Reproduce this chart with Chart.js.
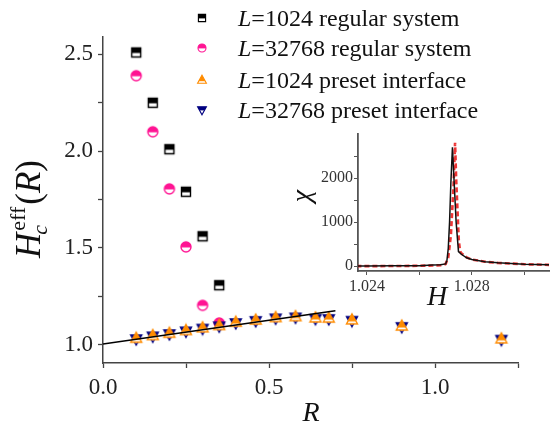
<!DOCTYPE html>
<html>
<head>
<meta charset="utf-8">
<script src="https://cdn.jsdelivr.net/npm/chart.js@4"></script>
<style>
  body { margin: 0; background: #fff; }
  #wrap { position: relative; width: 550px; height: 425px; }
  #main { position: absolute; left: 0; top: 0; }
  #inset { position: absolute; left: 290px; top: 120px; }
</style>
</head>
<body>
<div id="wrap">
  <canvas id="main" width="550" height="425"></canvas>
  <canvas id="inset" width="260" height="190"></canvas>
</div>
<script>
// main panel data
const R_REG = [0.1, 0.15, 0.2, 0.25, 0.3, 0.35];
const HC_L1024_REG = [2.51, 2.25, 2.01, 1.79, 1.56, 1.307];
const HC_L32768_REG = [2.39, 2.10, 1.805, 1.505, 1.203, 1.112];

const R_PRESET = [0.1, 0.15, 0.2, 0.25, 0.3, 0.35, 0.4, 0.46, 0.52, 0.58, 0.64, 0.68, 0.75, 0.9, 1.2];
const HC_L1024_PRESET = [1.033, 1.047, 1.059, 1.073, 1.087, 1.099, 1.116, 1.127, 1.140, 1.145, 1.138, 1.137, 1.128, 1.096, 1.030];
const HC_L32768_PRESET = [1.029, 1.043, 1.055, 1.069, 1.083, 1.095, 1.112, 1.123, 1.136, 1.141, 1.134, 1.133, 1.124, 1.092, 1.026];

const FIT_R = [0, 0.7];
const FIT_HC = [1.003, 1.175];

const X_TICKS = [0, 0.25, 0.5, 0.75, 1.0, 1.25];
const X_LABELS = [0, 0.5, 1.0];
const Y_TICKS = [1.0, 1.25, 1.5, 1.75, 2.0, 2.25, 2.5];
const Y_LABELS = [1.0, 1.5, 2.0, 2.5];

// inset data (susceptibility vs field)
const H_BLACK = [1.0236, 1.024, 1.025, 1.026, 1.0265, 1.0268, 1.027, 1.02705, 1.0271, 1.02715, 1.0272, 1.02726, 1.0273, 1.0274, 1.02749, 1.0276, 1.0278, 1.028, 1.0285, 1.029, 1.0295, 1.030, 1.031];
const CHI_BLACK = [5, 5, 8, 12, 25, 30, 50, 130, 400, 1000, 1900, 2700, 2200, 1000, 330, 270, 190, 150, 100, 75, 60, 45, 30];
const H_RED = [1.0236, 1.024, 1.025, 1.026, 1.0265, 1.0269, 1.027, 1.0271, 1.0272, 1.0273, 1.02736, 1.0274, 1.0275, 1.02755, 1.0276, 1.0278, 1.028, 1.0285, 1.029, 1.0295, 1.030, 1.031];
const CHI_RED = [0, 0, 3, 8, 15, 20, 50, 200, 700, 1800, 2800, 2000, 600, 330, 290, 200, 150, 100, 72, 58, 44, 28];

const INSET_X_TICKS = [1.024, 1.026, 1.028, 1.030];
const INSET_X_LABELS = [1.024, 1.028];
const INSET_Y_TICKS = [0, 500, 1000, 1500, 2000, 2500];
const INSET_Y_LABELS = [0, 1000, 2000];

const SERIF = '"Liberation Serif", "DejaVu Serif", serif';
const PINK = '#ff1493', ORANGE = '#ff8c00', NAVY = '#000080';

function pts(xs, ys) { return xs.map((x, i) => ({ x: x, y: ys[i] })); }

// marker with the upper half filled
function halfMarker(shape, color, k) {
  const c = document.createElement('canvas');
  c.width = 16; c.height = 16;
  const g = c.getContext('2d');
  g.translate(8, 8);
  g.scale(k, k);
  g.beginPath();
  if (shape === 'square') g.rect(-4.5, -4.5, 9, 9);
  else if (shape === 'circle') g.arc(0, 0, 5, 0, Math.PI * 2);
  else if (shape === 'up') { g.moveTo(0, -6); g.lineTo(5.5, 4); g.lineTo(-5.5, 4); g.closePath(); }
  else { g.moveTo(0, 6); g.lineTo(5.5, -4); g.lineTo(-5.5, -4); g.closePath(); }
  g.fillStyle = '#fff';
  g.fill();
  g.save();
  g.clip();
  g.fillStyle = color;
  g.fillRect(-8, -8, 16, shape === 'up' ? 9.5 : 8.5);
  g.restore();
  g.strokeStyle = color;
  g.lineWidth = 1.4;
  g.stroke();
  return c;
}

const M_SQ = halfMarker('square', '#000', 1);
const M_CI = halfMarker('circle', PINK, 1);
const M_UP = halfMarker('up', ORANGE, 1);
const M_DN = halfMarker('down', NAVY, 1);
const LEG = [
  halfMarker('square', '#000', 0.8),
  halfMarker('circle', PINK, 0.8),
  halfMarker('up', ORANGE, 0.8),
  halfMarker('down', NAVY, 0.8)
];

function drawParts(ctx, parts, x, y) {
  let cx = x;
  parts.forEach(p => {
    ctx.font = p[1];
    ctx.fillText(p[0], cx, y + (p[2] || 0));
    cx += ctx.measureText(p[0]).width;
  });
}

const mainDecor = {
  id: 'mainDecor',
  afterDraw(chart) {
    const ctx = chart.ctx;
    ctx.save();
    ctx.fillStyle = '#111';
    ctx.textBaseline = 'alphabetic';
    ctx.textAlign = 'left';
    // legend
    const rows = [
      ['1024 regular system', 18],
      ['32768 regular system', 48],
      ['1024 preset interface', 80],
      ['32768 preset interface', 110]
    ];
    rows.forEach((r, i) => {
      ctx.drawImage(LEG[i], 202 - 8, r[1] - 8);
      drawParts(ctx, [
        ['L', 'italic 24px ' + SERIF],
        ['=', '24px ' + SERIF],
        [r[0], '24px ' + SERIF]
      ], 238, r[1] + 8);
    });
    // x title
    ctx.font = 'italic 28px ' + SERIF;
    ctx.textAlign = 'center';
    ctx.fillText('R', 311, 421);
    // y title
    ctx.translate(40, 209);
    ctx.rotate(-Math.PI / 2);
    ctx.textAlign = 'left';
    const big = 35, small = 22;
    ctx.font = 'italic ' + big + 'px ' + SERIF;
    const wH = ctx.measureText('H').width;
    ctx.font = small + 'px ' + SERIF;
    const wEff = ctx.measureText('eff').width;
    ctx.font = big + 'px ' + SERIF;
    const wP = ctx.measureText('(').width;
    ctx.font = 'italic ' + big + 'px ' + SERIF;
    const wR = ctx.measureText('R').width;
    const total = wH + wEff + 4 + wP * 2 + wR;
    let x0 = -total / 2;
    ctx.font = 'italic ' + big + 'px ' + SERIF;
    ctx.fillText('H', x0, 0);
    ctx.font = small + 'px ' + SERIF;
    ctx.fillText('eff', x0 + wH + 2, -15);
    ctx.font = 'italic ' + small + 'px ' + SERIF;
    ctx.fillText('c', x0 + wH - 2, 7);
    x0 += wH + wEff + 4;
    drawParts(ctx, [
      ['(', big + 'px ' + SERIF],
      ['R', 'italic ' + big + 'px ' + SERIF],
      [')', big + 'px ' + SERIF]
    ], x0, 0);
    ctx.restore();
  }
};

function fixedTicks(list) {
  return scale => { scale.ticks = list.map(v => ({ value: v })); };
}

new Chart(document.getElementById('main'), {
  type: 'scatter',
  data: {
    datasets: [
      { label: 'fit', type: 'line', data: pts(FIT_R, FIT_HC), borderColor: '#000', borderWidth: 1.6, pointRadius: 0, showLine: true, fill: false },
      { label: 'L=1024 preset interface', data: pts(R_PRESET, HC_L1024_PRESET), pointStyle: M_UP, pointRadius: 6 },
      { label: 'L=32768 preset interface', data: pts(R_PRESET, HC_L32768_PRESET), pointStyle: M_DN, pointRadius: 6 },
      { label: 'L=32768 regular system', data: pts(R_REG, HC_L32768_REG), pointStyle: M_CI, pointRadius: 6 },
      { label: 'L=1024 regular system', data: pts(R_REG, HC_L1024_REG), pointStyle: M_SQ, pointRadius: 6 }
    ]
  },
  options: {
    responsive: false,
    animation: false,
    devicePixelRatio: 1,
    layout: { autoPadding: false, padding: { top: 37, right: 32, left: 0, bottom: 0 } },
    plugins: { legend: { display: false }, tooltip: { enabled: false } },
    scales: {
      x: {
        type: 'linear', min: 0, max: 1.25,
        afterBuildTicks: fixedTicks(X_TICKS),
        afterFit: s => { s.height = 62; },
        border: { display: true, color: '#444', width: 1.5 },
        grid: { drawOnChartArea: false, drawTicks: true, tickLength: 5, tickColor: '#444', tickWidth: 1.3 },
        ticks: {
          autoSkip: false, maxRotation: 0, padding: 6, color: '#222',
          font: { family: SERIF, size: 23 },
          callback: v => X_LABELS.some(l => Math.abs(l - v) < 1e-9) ? v.toFixed(1) : ''
        }
      },
      y: {
        type: 'linear', min: 0.905, max: 2.59,
        afterBuildTicks: fixedTicks(Y_TICKS),
        afterFit: s => { s.width = 103; },
        border: { display: true, color: '#444', width: 1.5 },
        grid: { drawOnChartArea: false, drawTicks: true, tickLength: 5, tickColor: '#444', tickWidth: 1.3 },
        ticks: {
          autoSkip: false, padding: 5, color: '#222',
          font: { family: SERIF, size: 23 },
          callback: v => Y_LABELS.some(l => Math.abs(l - v) < 1e-9) ? v.toFixed(1) : ''
        }
      }
    }
  },
  plugins: [mainDecor]
});

const insetDecor = {
  id: 'insetDecor',
  afterDraw(chart) {
    const ctx = chart.ctx;
    ctx.save();
    ctx.fillStyle = '#111';
    ctx.textAlign = 'center';
    ctx.textBaseline = 'middle';
    ctx.font = 'italic 28px ' + SERIF;
    ctx.fillText('H', 147, 178);
    ctx.translate(13, 76);
    ctx.rotate(-Math.PI / 2);
    ctx.fillText('\u03c7', 0, 0);
    ctx.restore();
  }
};

new Chart(document.getElementById('inset'), {
  type: 'scatter',
  data: {
    datasets: [
      { label: 'L=1024', data: pts(H_BLACK, CHI_BLACK), showLine: true, borderColor: '#111', borderWidth: 1.5, pointRadius: 0, tension: 0 },
      { label: 'L=32768', data: pts(H_RED, CHI_RED), showLine: true, borderColor: 'rgba(235,30,30,0.9)', borderWidth: 2.6, borderDash: [5, 3], pointRadius: 0, tension: 0 }
    ]
  },
  options: {
    responsive: false,
    animation: false,
    devicePixelRatio: 1,
    layout: { autoPadding: false, padding: { top: 14, right: 1, left: 0, bottom: 0 } },
    plugins: { legend: { display: false }, tooltip: { enabled: false } },
    scales: {
      x: {
        type: 'linear', min: 1.02366, max: 1.03094,
        afterBuildTicks: fixedTicks(INSET_X_TICKS),
        afterFit: s => { s.height = 39; },
        border: { display: true, color: '#555', width: 1.8 },
        grid: { drawOnChartArea: false, tickLength: 4, tickColor: '#555' },
        ticks: {
          autoSkip: false, maxRotation: 0, padding: 2, color: '#333',
          font: { family: SERIF, size: 16 },
          callback: v => INSET_X_LABELS.some(l => Math.abs(l - v) < 1e-9) ? v.toFixed(3) : ''
        }
      },
      y: {
        type: 'linear', min: -110, max: 3000,
        afterBuildTicks: fixedTicks(INSET_Y_TICKS),
        afterFit: s => { s.width = 68; },
        border: { display: true, color: '#555', width: 1.8 },
        grid: { drawOnChartArea: false, tickLength: 4, tickColor: '#555' },
        ticks: {
          autoSkip: false, padding: 1, color: '#333',
          font: { family: SERIF, size: 16 },
          callback: v => INSET_Y_LABELS.includes(v) ? String(v) : ''
        }
      }
    }
  },
  plugins: [insetDecor]
});
</script>
</body>
</html>
